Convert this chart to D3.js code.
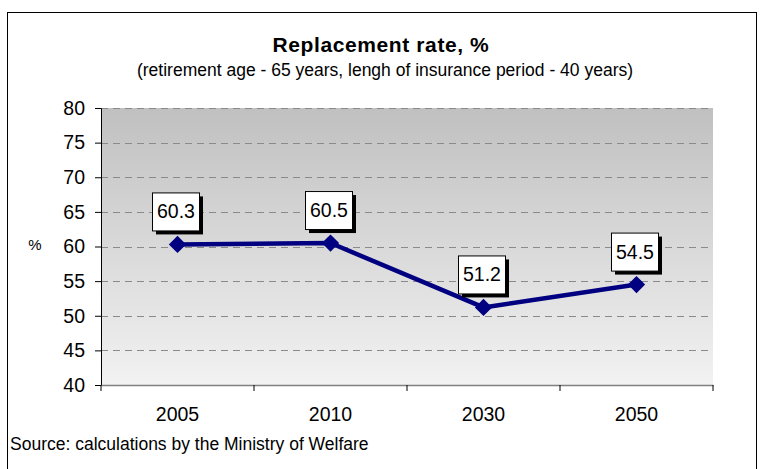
<!DOCTYPE html>
<html>
<head>
<meta charset="utf-8">
<script src="https://cdn.jsdelivr.net/npm/d3@7"></script>
<style>
  body { margin: 0; background: #fff; }
  svg { font-family: Arial, "Liberation Sans", sans-serif; }
</style>
</head>
<body>
<svg id="chart" width="762" height="469"></svg>
<script>
const years = ["2005", "2010", "2030", "2050"];
const rates = [60.3, 60.5, 51.2, 54.5];
const yTicks = [40, 45, 50, 55, 60, 65, 70, 75, 80];

const margin = { top: 108, right: 49, bottom: 84, left: 101 };
const width = 762 - margin.left - margin.right;
const height = 469 - margin.top - margin.bottom;

const svg = d3.select("#chart");

// outer frame
svg.append("rect")
  .attr("x", 7.5).attr("y", 12.5)
  .attr("width", 749).attr("height", 480)
  .attr("fill", "none").attr("stroke", "#000").attr("stroke-width", 1);

const defs = svg.append("defs");
const grad = defs.append("linearGradient")
  .attr("id", "bg").attr("x1", 0).attr("y1", 0).attr("x2", 0).attr("y2", 1);
grad.append("stop").attr("offset", "0%").attr("stop-color", "#c0c0c0");
grad.append("stop").attr("offset", "100%").attr("stop-color", "#f2f2f2");

svg.append("text")
  .attr("x", 381).attr("y", 52)
  .attr("text-anchor", "middle")
  .attr("font-size", 21).attr("font-weight", "bold")
  .attr("letter-spacing", 0.6)
  .text("Replacement rate, %");

svg.append("text")
  .attr("x", 385).attr("y", 76)
  .attr("text-anchor", "middle")
  .attr("font-size", 17.5)
  .text("(retirement age - 65 years, lengh of insurance period - 40 years)");

const g = svg.append("g")
  .attr("transform", `translate(${margin.left},${margin.top})`);

const x = d3.scaleBand().domain(years).range([0, width]);
const y = d3.scaleLinear().domain([40, 80]).range([height, 0]);

g.append("rect")
  .attr("width", width).attr("height", height)
  .attr("fill", "url(#bg)");

// gridlines
g.selectAll(".grid")
  .data(yTicks.filter(d => d > 40))
  .enter().append("line")
  .attr("class", "grid")
  .attr("x1", 0).attr("x2", width)
  .attr("y1", d => Math.round(y(d)) + 0.5)
  .attr("y2", d => Math.round(y(d)) + 0.5)
  .attr("stroke", "#8a8a8a")
  .attr("stroke-dasharray", "7,5");

// y axis
const yAxis = d3.axisLeft(y).tickValues(yTicks).tickSize(6).tickPadding(10);
const yg = g.append("g").call(yAxis);
yg.select(".domain").attr("stroke", "#000");
yg.selectAll("text").attr("font-size", 19.5).attr("fill", "#000");

// x axis
const xAxis = d3.axisBottom(x).tickSize(0).tickPadding(22);
const xg = g.append("g").attr("transform", `translate(0,${height})`).call(xAxis);
xg.select(".domain").attr("stroke", "#808080").attr("stroke-width", 1.5);
xg.selectAll("text").attr("font-size", 19.5).attr("fill", "#000");
xg.selectAll(".sep")
  .data(years.map(d => x(d)).concat([width]))
  .enter().append("line")
  .attr("class", "sep")
  .attr("x1", d => d).attr("x2", d => d)
  .attr("y1", 0).attr("y2", 6)
  .attr("stroke", "#000");

svg.append("text")
  .attr("x", 35).attr("y", 250)
  .attr("text-anchor", "middle")
  .attr("font-size", 15)
  .text("%");

// series
const cx = d => x(d) + x.bandwidth() / 2;
const pts = years.map((yr, i) => ({ yr, v: rates[i] }));

g.append("path")
  .datum(pts)
  .attr("fill", "none")
  .attr("stroke", "#000080")
  .attr("stroke-width", 4.5)
  .attr("stroke-linejoin", "round")
  .attr("d", d3.line().x(d => cx(d.yr)).y(d => y(d.v)));

g.selectAll(".marker")
  .data(pts)
  .enter().append("path")
  .attr("class", "marker")
  .attr("transform", d => `translate(${cx(d.yr)},${y(d.v)})`)
  .attr("d", d3.symbol().type(d3.symbolDiamond2).size(190))
  .attr("fill", "#000080");

// data labels
const bw = 47, bh = 38;
const lab = g.selectAll(".lab").data(pts).enter().append("g")
  .attr("class", "lab")
  .attr("transform", d => `translate(${cx(d.yr) - 2 - bw / 2},${y(d.v) - 14 - bh})`);
lab.append("rect")
  .attr("x", 4).attr("y", 4).attr("width", bw).attr("height", bh)
  .attr("fill", "#000");
lab.append("rect")
  .attr("x", 0.5).attr("y", 0.5).attr("width", bw).attr("height", bh)
  .attr("fill", "#fff").attr("stroke", "#000");
lab.append("text")
  .attr("x", bw / 2 + 0.5).attr("y", bh / 2 + 7)
  .attr("text-anchor", "middle")
  .attr("font-size", 19.5)
  .text(d => d.v.toFixed(1));

svg.append("text")
  .attr("x", 10).attr("y", 450)
  .attr("font-size", 17.5)
  .text("Source: calculations by the Ministry of Welfare");
</script>
</body>
</html>
